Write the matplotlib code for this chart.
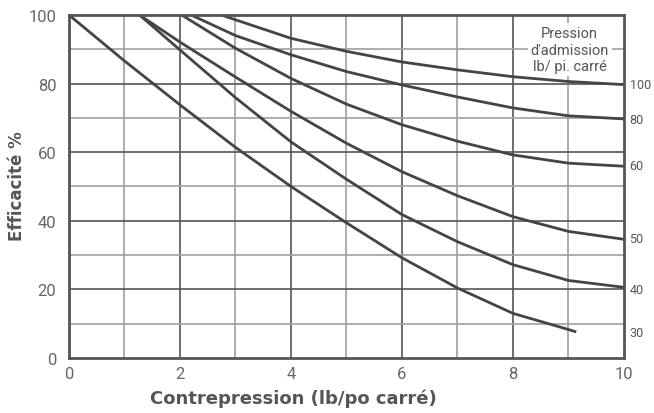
import matplotlib
matplotlib.use("Agg")
from matplotlib import pyplot as plt

# back pressure (x) vs efficiency (y) for each admission pressure
x_30 = [0, 1, 2, 3, 4, 5, 6, 7, 8, 9, 9.14]
y_30 = [100, 86.6, 73.8, 61.4, 50.0, 39.4, 29.2, 20.4, 13.0, 8.3, 7.6]
x_40 = [1.27, 2, 3, 4, 5, 6, 7, 8, 9, 10]
y_40 = [100, 89.8, 75.9, 63.0, 52.1, 41.8, 33.9, 27.2, 22.6, 20.6]
x_50 = [1.27, 2, 3, 4, 5, 6, 7, 8, 9, 10]
y_50 = [100, 92.1, 81.9, 71.9, 62.6, 54.3, 47.3, 41.2, 36.9, 34.6]
x_60 = [2.03, 3, 4, 5, 6, 7, 8, 9, 10]
y_60 = [100, 90.3, 81.5, 74.0, 68.0, 63.2, 59.2, 56.8, 55.9]
x_80 = [2.2, 3, 4, 5, 6, 7, 8, 9, 10]
y_80 = [100, 94.0, 88.4, 83.5, 79.6, 76.1, 72.9, 70.6, 69.7]
x_100 = [2.74, 4, 5, 6, 7, 8, 9, 10]
y_100 = [100, 93.2, 89.4, 86.3, 84.0, 82.0, 80.6, 79.7]

curve_labels = ["30", "40", "50", "60", "80", "100"]
label_y = [7.3, 20.0, 34.8, 56.2, 69.5, 79.7]

plt.rcParams['font.family'] = ['Roboto', 'DejaVu Sans']
grey = "#555555"
line_col = "#444444"

fig = plt.figure(figsize=(6.54, 4.14), dpi=100)
ax = fig.add_axes([0.1055, 0.1329, 0.8486, 0.8285])

# grid: darker on even x / every 20, lighter between
for gx in range(1, 10):
    col = grey if gx % 2 == 0 else "#a0a0a0"
    ax.axvline(gx, color=col, lw=1.2, zorder=1)
for gy in range(10, 100, 10):
    col = grey if gy % 20 == 0 else "#a0a0a0"
    ax.axhline(gy, color=col, lw=1.2, zorder=1)

xs = [x_30, x_40, x_50, x_60, x_80, x_100]
ys = [y_30, y_40, y_50, y_60, y_80, y_100]
for x, y in zip(xs, ys):
    ax.plot(x, y, color=line_col, lw=2, zorder=3, solid_capstyle="butt")

for lab, yy in zip(curve_labels, label_y):
    ax.text(10.1, yy, lab, fontsize=9, color=grey, ha="left", va="center", clip_on=False)

ax.text(9.02, 96.8, "Pression\nd'admission\nlb/ pi. carré", fontsize=10.5, color=grey,
        ha="center", va="top", linespacing=1.25, zorder=4,
        bbox=dict(facecolor="white", edgecolor="none", pad=2))

ax.set_xlim(0, 10)
ax.set_ylim(0, 100)
ax.set_xticks([0, 2, 4, 6, 8, 10])
ax.set_yticks([0, 20, 40, 60, 80, 100])
ax.tick_params(length=0, labelsize=12, labelcolor="#666666")
ax.tick_params(axis="x", pad=6)
ax.tick_params(axis="y", pad=9)
for s in ax.spines.values():
    s.set_color(grey)
    s.set_linewidth(2)
    s.set_zorder(5)

fig.text(293.5 / 654, 1 - 399 / 414, "Contrepression (lb/po carré)", fontsize=13,
         fontweight="bold", color=grey, ha="center", va="center", family="DejaVu Sans")
fig.text(17.5 / 654, 1 - 186 / 414, "Efficacité %", fontsize=12, fontweight="bold",
         color=grey, ha="center", va="center", rotation=90, family="DejaVu Sans")

fig.savefig("out.png", dpi=100)
